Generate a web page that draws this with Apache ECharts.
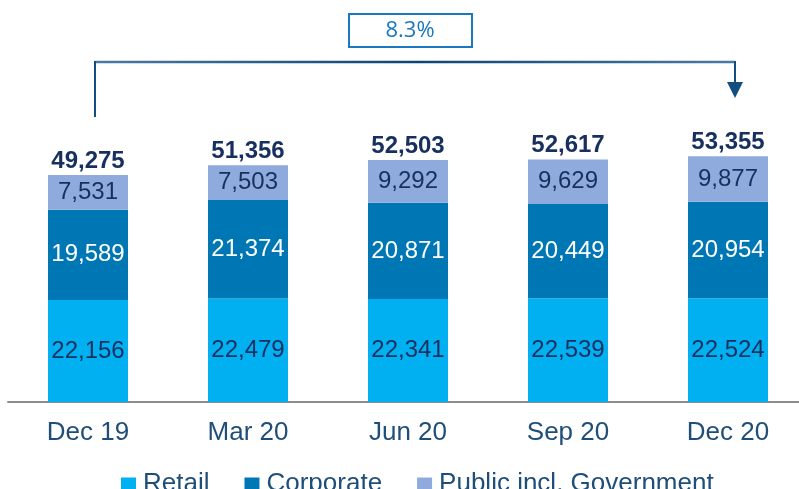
<!DOCTYPE html>
<html>
<head>
<meta charset="utf-8">
<script src="https://cdn.jsdelivr.net/npm/echarts@6/dist/echarts.min.js"></script>
<style>
  html, body { margin: 0; padding: 0; background: #fff; }
  #chart { width: 799px; height: 489px; }
</style>
</head>
<body>
<div id="chart"></div>
<script>
// data
const categories = ['Dec 19', 'Mar 20', 'Jun 20', 'Sep 20', 'Dec 20']
const retail = [22156, 22479, 22341, 22539, 22524]
const corporate = [19589, 21374, 20871, 20449, 20954]
const publicGov = [7531, 7503, 9292, 9629, 9877]
const totals = [49275, 51356, 52503, 52617, 53355]
const growthLabel = '8.3%'

const navy = '#17305f'
const axisText = '#1f4e79'
const font = "'Liberation Sans', Arial, sans-serif"

const chart = echarts.init(document.getElementById('chart'))

const fmt = p => p.value.toLocaleString('en-US')

const segment = (name, data, color, labelColor) => ({
  name,
  type: 'bar',
  stack: 'total',
  data,
  barWidth: 80,
  itemStyle: { color },
  label: {
    show: true,
    position: 'inside',
    formatter: fmt,
    color: labelColor,
    fontFamily: font,
    fontSize: 24
  },
  emphasis: { disabled: true }
})

chart.setOption({
  animation: false,
  grid: { left: 8, top: 61, width: 800, height: 341, outerBoundsMode: 'none' },
  legend: {
    data: ['Retail', 'Corporate', 'Public incl. Government'],
    left: 121,
    top: 471,
    icon: 'rect',
    itemWidth: 15,
    itemHeight: 13,
    itemGap: 35,
    padding: 0,
    textStyle: { color: axisText, fontFamily: font, fontSize: 26, padding: [0, 0, 4, 2] }
  },
  xAxis: {
    type: 'category',
    data: categories,
    axisLine: { lineStyle: { color: '#8c8c8c', width: 2 } },
    axisTick: { show: false },
    axisLabel: { color: axisText, fontFamily: font, fontSize: 26, margin: 18 }
  },
  yAxis: {
    type: 'value',
    min: 0,
    max: 74000,
    show: false
  },
  series: [
    segment('Retail', retail, '#00b0f0', navy),
    segment('Corporate', corporate, '#0077b5', '#ffffff'),
    segment('Public incl. Government', publicGov, '#8faadc', navy),
    {
      name: 'Total',
      type: 'bar',
      data: totals,
      barWidth: 80,
      barGap: '-100%',
      z: 1,
      itemStyle: { color: 'rgba(0,0,0,0)' },
      label: {
        show: true,
        position: 'top',
        distance: 2,
        formatter: fmt,
        color: navy,
        fontFamily: font,
        fontWeight: 'bold',
        fontSize: 24
      },
      emphasis: { disabled: true }
    }
  ]
})

// growth bracket from first to last bar
const x0 = chart.convertToPixel({ xAxisIndex: 0 }, categories[0]) + 7
const x1 = chart.convertToPixel({ xAxisIndex: 0 }, categories[categories.length - 1]) + 7
const lineColor = '#124f80'

chart.setOption({
  graphic: [
    {
      type: 'line',
      shape: { x1: x0, y1: 62, x2: x1, y2: 62 },
      style: {
        lineWidth: 2.5,
        stroke: new echarts.graphic.LinearGradient(0, 0, 1, 0, [
          { offset: 0, color: '#4c7aa6' },
          { offset: 0.5, color: '#0b4577' },
          { offset: 1, color: '#4c7aa6' }
        ])
      }
    },
    {
      type: 'line',
      shape: { x1: x0, y1: 61, x2: x0, y2: 117 },
      style: { stroke: lineColor, lineWidth: 2 }
    },
    {
      type: 'line',
      shape: { x1: x1, y1: 61, x2: x1, y2: 84 },
      style: { stroke: lineColor, lineWidth: 2 }
    },
    {
      type: 'polygon',
      shape: { points: [[x1 - 8, 82], [x1 + 8, 82], [x1, 98]] },
      style: { fill: lineColor }
    },
    {
      type: 'rect',
      shape: { x: 349, y: 14, width: 123, height: 33 },
      style: { fill: '#fff', stroke: '#1a78c2', lineWidth: 2 }
    },
    {
      type: 'text',
      x: 410,
      y: 31,
      style: {
        text: growthLabel,
        fill: '#1a78c2',
        font: "22px 'Open Sans', 'Noto Sans', sans-serif",
        align: 'center',
        verticalAlign: 'middle'
      }
    }
  ]
})
</script>
</body>
</html>
